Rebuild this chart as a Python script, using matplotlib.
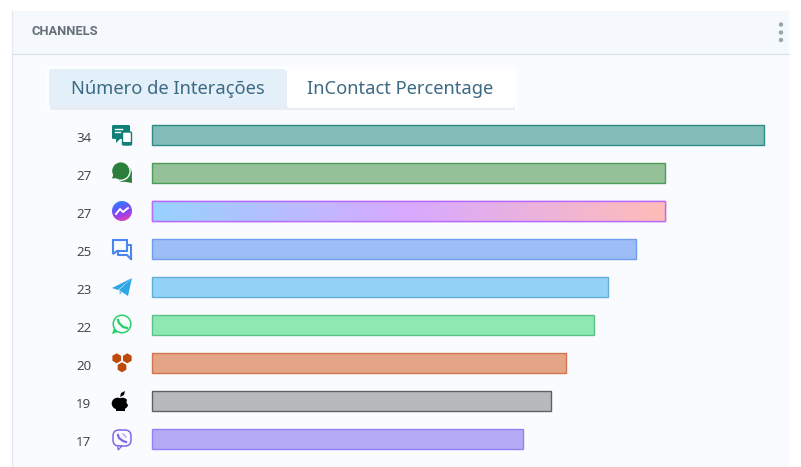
#!/usr/bin/env python3
"""Channels card: horizontal bars with an icon beside each value."""
import numpy as np
import matplotlib
matplotlib.use("Agg")
import matplotlib.pyplot as plt
from matplotlib.colors import LinearSegmentedColormap
from matplotlib.patches import Circle, FancyBboxPatch, Polygon, Rectangle, RegularPolygon

W, H = 801, 467

channels = ["sms", "chat", "messenger", "webchat", "telegram",
            "whatsapp", "hive", "apple", "viber"]
values = [34, 27, 27, 25, 23, 22, 20, 19, 17]
face_colors = ["#82bcb8", "#94c198", "#dcaaf5", "#9dbdf7", "#93d3f7",
               "#8ee8b2", "#e5a486", "#b8b9ba", "#b4aaf5"]
edge_colors = ["#2f8c85", "#4a9c58", "#b76cff", "#6f9df2", "#62aedb",
               "#5cc08a", "#cf7550", "#5f6062", "#9381f7"]
tab_labels = ["Número de Interações", "InContact Percentage"]
title = "CHANNELS"
# The value axis does not start at zero: bars grow from this value
axis_min = -9.3

fig = plt.figure(figsize=(W / 100, H / 100), dpi=100, facecolor="white")

# Overlay in pixel coordinates for the card and the icons
bg = fig.add_axes([0, 0, 1, 1])
bg.set_xlim(0, W)
bg.set_ylim(H, 0)
bg.axis("off")

bg.add_patch(Rectangle((12, 11), 777, 456, fc="#fafbfe", ec="none"))
bg.add_patch(Rectangle((12, 11), 777, 43, fc="#f5f8fc", ec="none"))
bg.plot([12, 789], [54, 54], color="#d9e2ea", lw=0.9)
bg.plot([12, 12], [11, 467], color="#e3e8ee", lw=0.9)
bg.text(32, 31.5, title, family="Roboto", weight="bold", fontsize=9.3,
        color="#667079", va="center")
for cy in [24.5, 32.5, 40]:
    bg.add_patch(Circle((781, cy), 2.2, fc="#98a6ad", ec="none"))

# Tabs
bg.add_patch(Rectangle((47, 66), 470, 44, fc="#fdfeff", ec="none"))
bg.add_patch(Rectangle((50, 71), 465, 39, fc="#e9edf1", ec="none"))
bg.add_patch(FancyBboxPatch((49, 69), 237, 38, boxstyle="round,pad=0,rounding_size=3",
                            fc="#e3f0fa", ec="none"))
bg.add_patch(FancyBboxPatch((287, 69), 228, 39, boxstyle="round,pad=0,rounding_size=3",
                            fc="white", ec="none"))
bg.text(167.5, 89.5, tab_labels[0], family="Noto Sans", fontsize=13.2,
        color="#3c6a84", ha="center", va="center")
bg.text(400.5, 89.5, tab_labels[1], family="Noto Sans", fontsize=13.2,
        color="#3c6a84", ha="center", va="center")

# Bars, rows 38 px apart
ax = fig.add_axes([151.5 / W, 1 - 458 / H, 612 / W, 342 / H])
ax.patch.set_alpha(0)
rows = np.arange(len(values))
widths = [v - axis_min for v in values]
bars = ax.barh(rows, widths, left=axis_min, height=20 / 38, color=face_colors,
               edgecolor=edge_colors, linewidth=1.0, zorder=2, clip_on=False)

gradient = LinearSegmentedColormap.from_list(
    "messenger", ["#97d2ff", "#d8a9ff", "#ffbcb8"])
msg = channels.index("messenger")
img = ax.imshow(np.linspace(0, 1, 256).reshape(1, -1), cmap=gradient, aspect="auto",
                extent=(axis_min, values[msg], msg + 10 / 38, msg - 10 / 38), zorder=3)
img.set_clip_path(bars[msg])
ax.barh(msg, widths[msg], left=axis_min, height=20 / 38, color="none",
        edgecolor=edge_colors[msg], linewidth=1.0, zorder=4, clip_on=False)

ax.set_xlim(axis_min, 34)
ax.set_ylim(len(values) - 0.5, -0.5)
ax.axis("off")

for row, val in zip(rows, values):
    ax.annotate(str(val), xy=(axis_min, row), xytext=(-60, -3), textcoords="offset pixels",
                family="Open Sans", fontsize=9.6, color="#3b3f44",
                ha="right", va="center", annotation_clip=False)

# Icons, one per row
ICON_X = 122
PANEL = "#fafbfe"


def icon_sms(cy):
    c = "#0f7f78"
    bg.add_patch(FancyBboxPatch((112, cy - 10), 18, 14, boxstyle="round,pad=0,rounding_size=1.5",
                                fc=c, ec="none"))
    bg.add_patch(Polygon([(116, cy + 4), (120, cy + 4), (116, cy + 8)], fc=c, ec="none"))
    bg.plot([115, 122], [cy - 6.5, cy - 6.5], color="white", lw=1.0)
    bg.plot([115, 120], [cy - 3, cy - 3], color="white", lw=1.0)
    bg.add_patch(FancyBboxPatch((122.5, cy - 3), 9, 13, boxstyle="round,pad=0,rounding_size=1.2",
                                fc="white", ec=c, lw=1.0))
    bg.add_patch(Rectangle((122.5, cy + 6.5), 9, 3.5, fc=c, ec="none"))


def icon_chat(cy):
    c = "#2b7f3a"
    bg.add_patch(Circle((123, cy), 8.8, fc=c, ec="none"))
    bg.add_patch(Polygon([(120, cy + 8), (132, cy + 10), (131.7, cy - 1)], fc=c, ec="none"))
    bg.add_patch(Circle((120.8, cy - 2), 10, fc=PANEL, ec="none"))
    bg.add_patch(Circle((120.8, cy - 2), 8.6, fc=c, ec="none"))
    bg.add_patch(Polygon([(112, cy + 5.5), (114, cy), (118, cy + 5)], fc=c, ec="none"))


def icon_messenger(cy):
    grad = LinearSegmentedColormap.from_list("m", ["#1f8cff", "#5a5cff", "#a23ee8", "#f0489a"])
    yy, xx = np.mgrid[0:1:40j, 0:1:40j]
    im = bg.imshow(yy * 0.75 + xx * 0.25, cmap=grad, aspect="auto",
                   extent=(112, 132, cy + 10, cy - 10), zorder=3)
    im.set_clip_path(Circle((ICON_X, cy), 10, transform=bg.transData))
    bg.plot([116, 120, 123, 128], [cy + 3, cy - 2, cy + 1, cy - 3], color="white", lw=1.4,
            zorder=4)
    bg.set_xlim(0, W)
    bg.set_ylim(H, 0)


def icon_webchat(cy):
    c = "#4a86f0"
    bg.add_patch(Polygon([(113, cy - 9), (127, cy - 9), (127, cy + 2), (117, cy + 2),
                          (113, cy + 5)], fc="none", ec=c, lw=1.5))
    bg.plot([128, 131, 131], [cy - 4, cy - 4, cy + 10], color=c, lw=1.5)
    bg.plot([131, 127, 118, 118], [cy + 10, cy + 6, cy + 6, cy + 3], color=c, lw=1.5)


def icon_telegram(cy):
    c = "#2fa6e6"
    bg.add_patch(Polygon([(132, cy - 9), (112, cy + 1), (118, cy + 3)], fc=c, ec="none"))
    bg.add_patch(Polygon([(132, cy - 9), (119, cy + 3), (128, cy + 9)], fc=c, ec="none"))
    bg.add_patch(Polygon([(119, cy + 3), (122, cy + 5), (120, cy + 8)], fc="#7cc8ee", ec="none"))


def icon_whatsapp(cy):
    c = "#25d366"
    bg.add_patch(Circle((122, cy - 1), 8.8, fc="none", ec=c, lw=1.1))
    bg.add_patch(Polygon([(112, cy + 9), (114, cy + 3), (118, cy + 7)], fc=c, ec="none"))
    bg.plot([118, 119, 123, 127], [cy - 5, cy - 2, cy + 2, cy + 3], color=c, lw=1.7)


def icon_hive(cy):
    c = "#bd4a0a"
    for dx, dy in [(-5.3, -4.7), (5.3, -4.7), (0, 4.3)]:
        bg.add_patch(RegularPolygon((ICON_X + dx, cy + dy), 6, radius=5.0, fc=c, ec="none"))


def icon_apple(cy):
    bg.add_patch(Circle((117.5, cy + 2.5), 5.8, fc="black", ec="none"))
    bg.add_patch(Circle((122.5, cy + 2.5), 5.8, fc="black", ec="none"))
    bg.add_patch(Rectangle((115.5, cy + 3), 9, 7, fc="black", ec="none"))
    bg.add_patch(Circle((129.5, cy + 1), 3, fc=PANEL, ec="none"))
    bg.add_patch(Polygon([(120, cy - 4), (121, cy - 8), (125, cy - 10), (124, cy - 6)],
                         fc="black", ec="none"))


def icon_viber(cy):
    c = "#7f67e8"
    bg.add_patch(FancyBboxPatch((113, cy - 9), 18, 16, boxstyle="round,pad=0,rounding_size=6",
                                fc="none", ec=c, lw=1.1))
    bg.add_patch(Polygon([(118, cy + 7), (122, cy + 7), (118, cy + 11)], fc=PANEL, ec=c, lw=0.9))
    bg.plot([118, 119, 123, 126], [cy - 4, cy - 1, cy + 2, cy + 3], color=c, lw=1.6)
    bg.plot([123, 126], [cy - 5, cy - 2], color="#b3a6f0", lw=1.0)


drawers = dict(sms=icon_sms, chat=icon_chat, messenger=icon_messenger, webchat=icon_webchat,
               telegram=icon_telegram, whatsapp=icon_whatsapp, hive=icon_hive,
               apple=icon_apple, viber=icon_viber)
for i, name in enumerate(channels):
    drawers[name](135 + 38 * i)

plt.savefig("out.png", dpi=100)
